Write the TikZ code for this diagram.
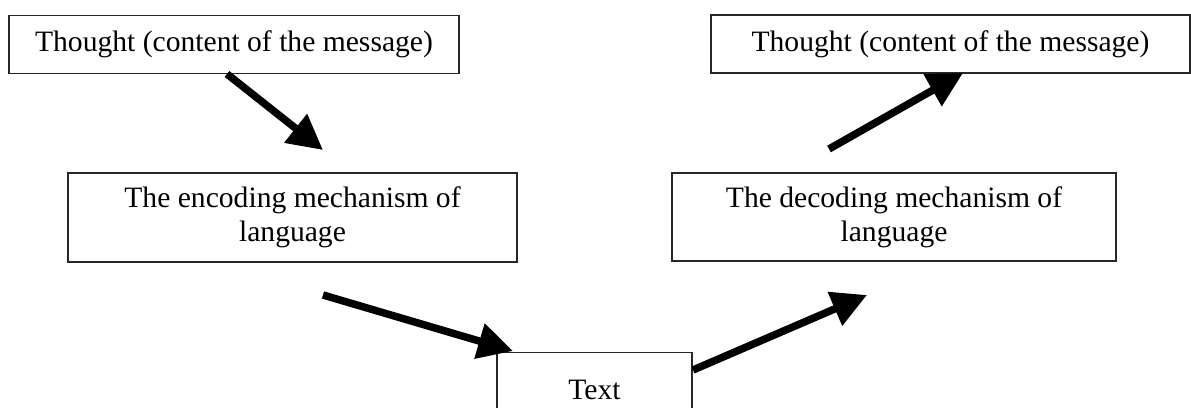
\documentclass[tikz,border=0pt]{standalone}
\usepackage{fontspec}
\setmainfont{Liberation Serif}
\usetikzlibrary{arrows.meta}
\begin{document}
\begin{tikzpicture}[x=1pt,y=-1pt,
  box/.style={draw=black!85, line width=1.4pt, inner sep=0pt, align=center,
              font=\fontsize{29.6}{34}\selectfont},
  flow/.style={line width=7.5pt, black,
               -{Triangle[length=35pt,width=35pt]}}]
  \useasboundingbox (0,0) rectangle (1191,407);

  % boxes
  \node[box, minimum width=450pt, minimum height=58pt] (thoughtL) at (234,44.5)
    {Thought (content of the message)};
  \node[box, minimum width=479pt, minimum height=58pt] (thoughtR) at (950.5,44)
    {Thought (content of the message)};
  \node[box, minimum width=449pt, minimum height=89pt] (encode) at (292.5,217.5)
    {The encoding mechanism of\\language};
  \node[box, minimum width=444pt, minimum height=88pt] (decode) at (894,217)
    {The decoding mechanism of\\language};
  \node[box, minimum width=195pt, text height=47pt, text depth=50pt, anchor=north]
    (text) at (594.5,352) {Text};

  % free arrow ends
  \coordinate (a1s) at (227,74);
  \coordinate (a1e) at (323,150);
  \coordinate (a2s) at (829,149);
  \coordinate (a2e) at (963,73);
  \coordinate (a3s) at (323,295);
  \coordinate (a3e) at (513,351);
  \coordinate (a4s) at (693,370);
  \coordinate (a4e) at (867,295);

  % arrows
  \draw[flow] (a1s) -- (a1e);
  \draw[flow] (a2s) -- (a2e);
  \draw[flow] (a3s) -- (a3e);
  \draw[flow] (a4s) -- (a4e);
\end{tikzpicture}
\end{document}
